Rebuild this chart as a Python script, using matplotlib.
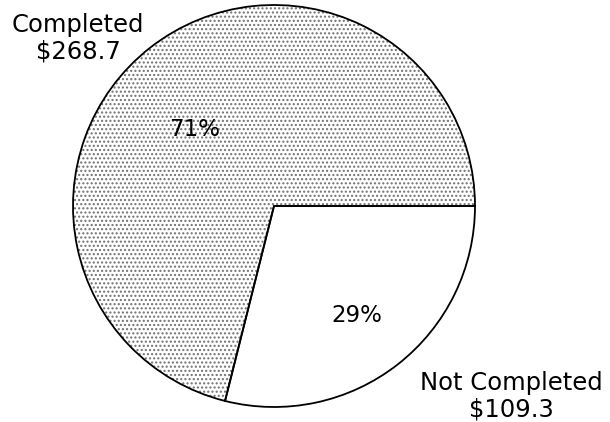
import matplotlib.pyplot as plt

# data
labels = ['Not Completed', 'Completed']
amounts = [109.3, 268.7]

total = sum(amounts)
pcts = [a / total * 100 for a in amounts]

fig = plt.figure(figsize=(6.1, 4.22), dpi=100)
ax = fig.add_axes([0, 0, 1, 1])

center = (274, 216)
radius = 201

# stippled fill
fills, _ = ax.pie(amounts, startangle=0, counterclock=False, center=center,
                  radius=radius, colors=['white', 'white'],
                  wedgeprops=dict(edgecolor='#707070', linewidth=0))
fills[1].set_hatch('....')
fills[0].set_edgecolor('white')

# black outlines
outl, _ = ax.pie(amounts, startangle=0, counterclock=False, center=center,
                 radius=radius,
                 wedgeprops=dict(fill=False, edgecolor='black', linewidth=1.3))

ax.set_xlim(0, 610)
ax.set_ylim(0, 422)
ax.set_aspect('equal')
ax.axis('off')

font = dict(family='DejaVu Sans', fontsize=17.5, ha='center', va='center')

ax.text(78, 384, f'{labels[1]}\n${amounts[1]:.1f}', linespacing=1.15, **font)
ax.text(511, 26, f'{labels[0]}\n${amounts[0]:.1f}', linespacing=1.15, **font)

pfont = dict(family='DejaVu Sans', fontsize=16.5, ha='center', va='center')
ax.text(195, 293, f'{pcts[1]:.0f}%', **pfont)
ax.text(357, 106, f'{pcts[0]:.0f}%', **pfont)

fig.savefig('out.png', dpi=100)
